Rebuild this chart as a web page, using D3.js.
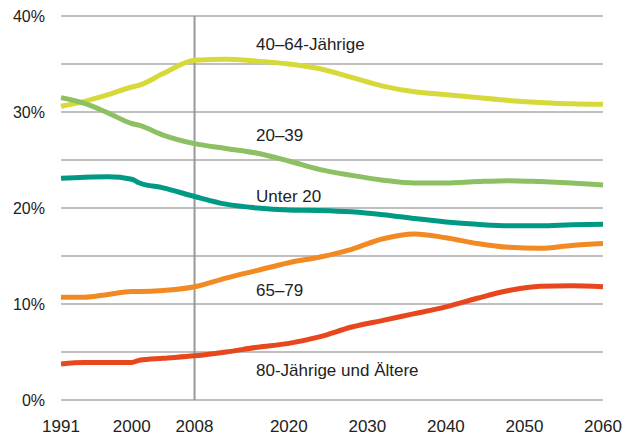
<!DOCTYPE html>
<html><head><meta charset="utf-8">
<script src="https://cdn.jsdelivr.net/npm/d3@7"></script>
<style>
html,body{margin:0;padding:0;background:#fff;}
text{font-family:"Liberation Sans",Arial,sans-serif;fill:#222;}
</style></head>
<body><svg id="c" width="635" height="436"></svg>
<script>
const years = [1991,1994,1997,2000,2001,2004,2008,2012,2016,2020,2024,2028,2032,2036,2040,2044,2048,2052,2056,2060];
const age40to64 = [30.6,31.1,31.8,32.6,32.8,34.0,35.4,35.5,35.3,35.0,34.5,33.6,32.7,32.1,31.8,31.5,31.2,31.0,30.85,30.8];
const age20to39 = [31.5,30.9,29.9,28.8,28.6,27.6,26.7,26.2,25.7,24.9,24.0,23.4,22.9,22.6,22.6,22.75,22.85,22.75,22.6,22.4];
const under20   = [23.1,23.2,23.25,23.0,22.6,22.1,21.2,20.4,20.0,19.8,19.75,19.6,19.3,18.9,18.55,18.3,18.15,18.15,18.25,18.3];
const age65to79 = [10.7,10.7,11.0,11.3,11.3,11.4,11.8,12.7,13.5,14.3,14.9,15.7,16.8,17.3,16.9,16.3,15.9,15.8,16.1,16.3];
const age80plus = [3.75,3.9,3.9,3.9,4.15,4.35,4.6,5.0,5.5,5.9,6.6,7.6,8.3,9.0,9.7,10.6,11.4,11.85,11.9,11.8];
const seriesNames = ["40–64-Jährige","20–39","Unter 20","65–79","80-Jährige und Ältere"];
const xTicks = [1991,2000,2008,2020,2030,2040,2050,2060];
const yTicks = [0,10,20,30,40];
const gridValues = [0,5,10,15,20,25,30,35,40];
const markerYear = 2008;

const seriesValues = [age40to64, age20to39, under20, age65to79, age80plus];
const colors = ["#d5da3a","#8cc063","#009a84","#f18a22","#e8471d"];
const labelPos = [[256,50],[256,141],[256,202],[256,296],[256,376]];

const svg = d3.select("#c");
const x = d3.scaleLinear().domain([1991,2060]).range([61,603]);
const y = d3.scaleLinear().domain([0,40]).range([400,16]);

svg.append("g").selectAll("line").data(gridValues).join("line")
  .attr("x1",x(1991)).attr("x2",x(2060))
  .attr("y1",d=>y(d)).attr("y2",d=>y(d))
  .attr("stroke","#aaa").attr("stroke-width",1.3);

svg.append("line").attr("x1",x(markerYear)).attr("x2",x(markerYear))
  .attr("y1",y(40)).attr("y2",y(0)).attr("stroke","#999").attr("stroke-width",2);

svg.append("g").selectAll("text").data(yTicks).join("text")
  .attr("x",45).attr("y",d=>y(d)).attr("dy","0.36em")
  .attr("text-anchor","end").attr("font-size",16).text(d=>d+"%");

svg.append("g").selectAll("text").data(xTicks).join("text")
  .attr("x",d=>x(d)).attr("y",432)
  .attr("text-anchor","middle").attr("font-size",17).text(d=>d);

const line = d3.line().x(d=>x(d[0])).y(d=>y(d[1])).curve(d3.curveMonotoneX);
seriesValues.forEach((vals,i)=>{
  svg.append("path").datum(years.map((yr,j)=>[yr,vals[j]]))
    .attr("d",line).attr("fill","none")
    .attr("stroke",colors[i]).attr("stroke-width",5);
});

svg.append("g").selectAll("text").data(seriesNames).join("text")
  .attr("x",(d,i)=>labelPos[i][0]).attr("y",(d,i)=>labelPos[i][1])
  .attr("font-size",17).text(d=>d);
</script></body></html>
